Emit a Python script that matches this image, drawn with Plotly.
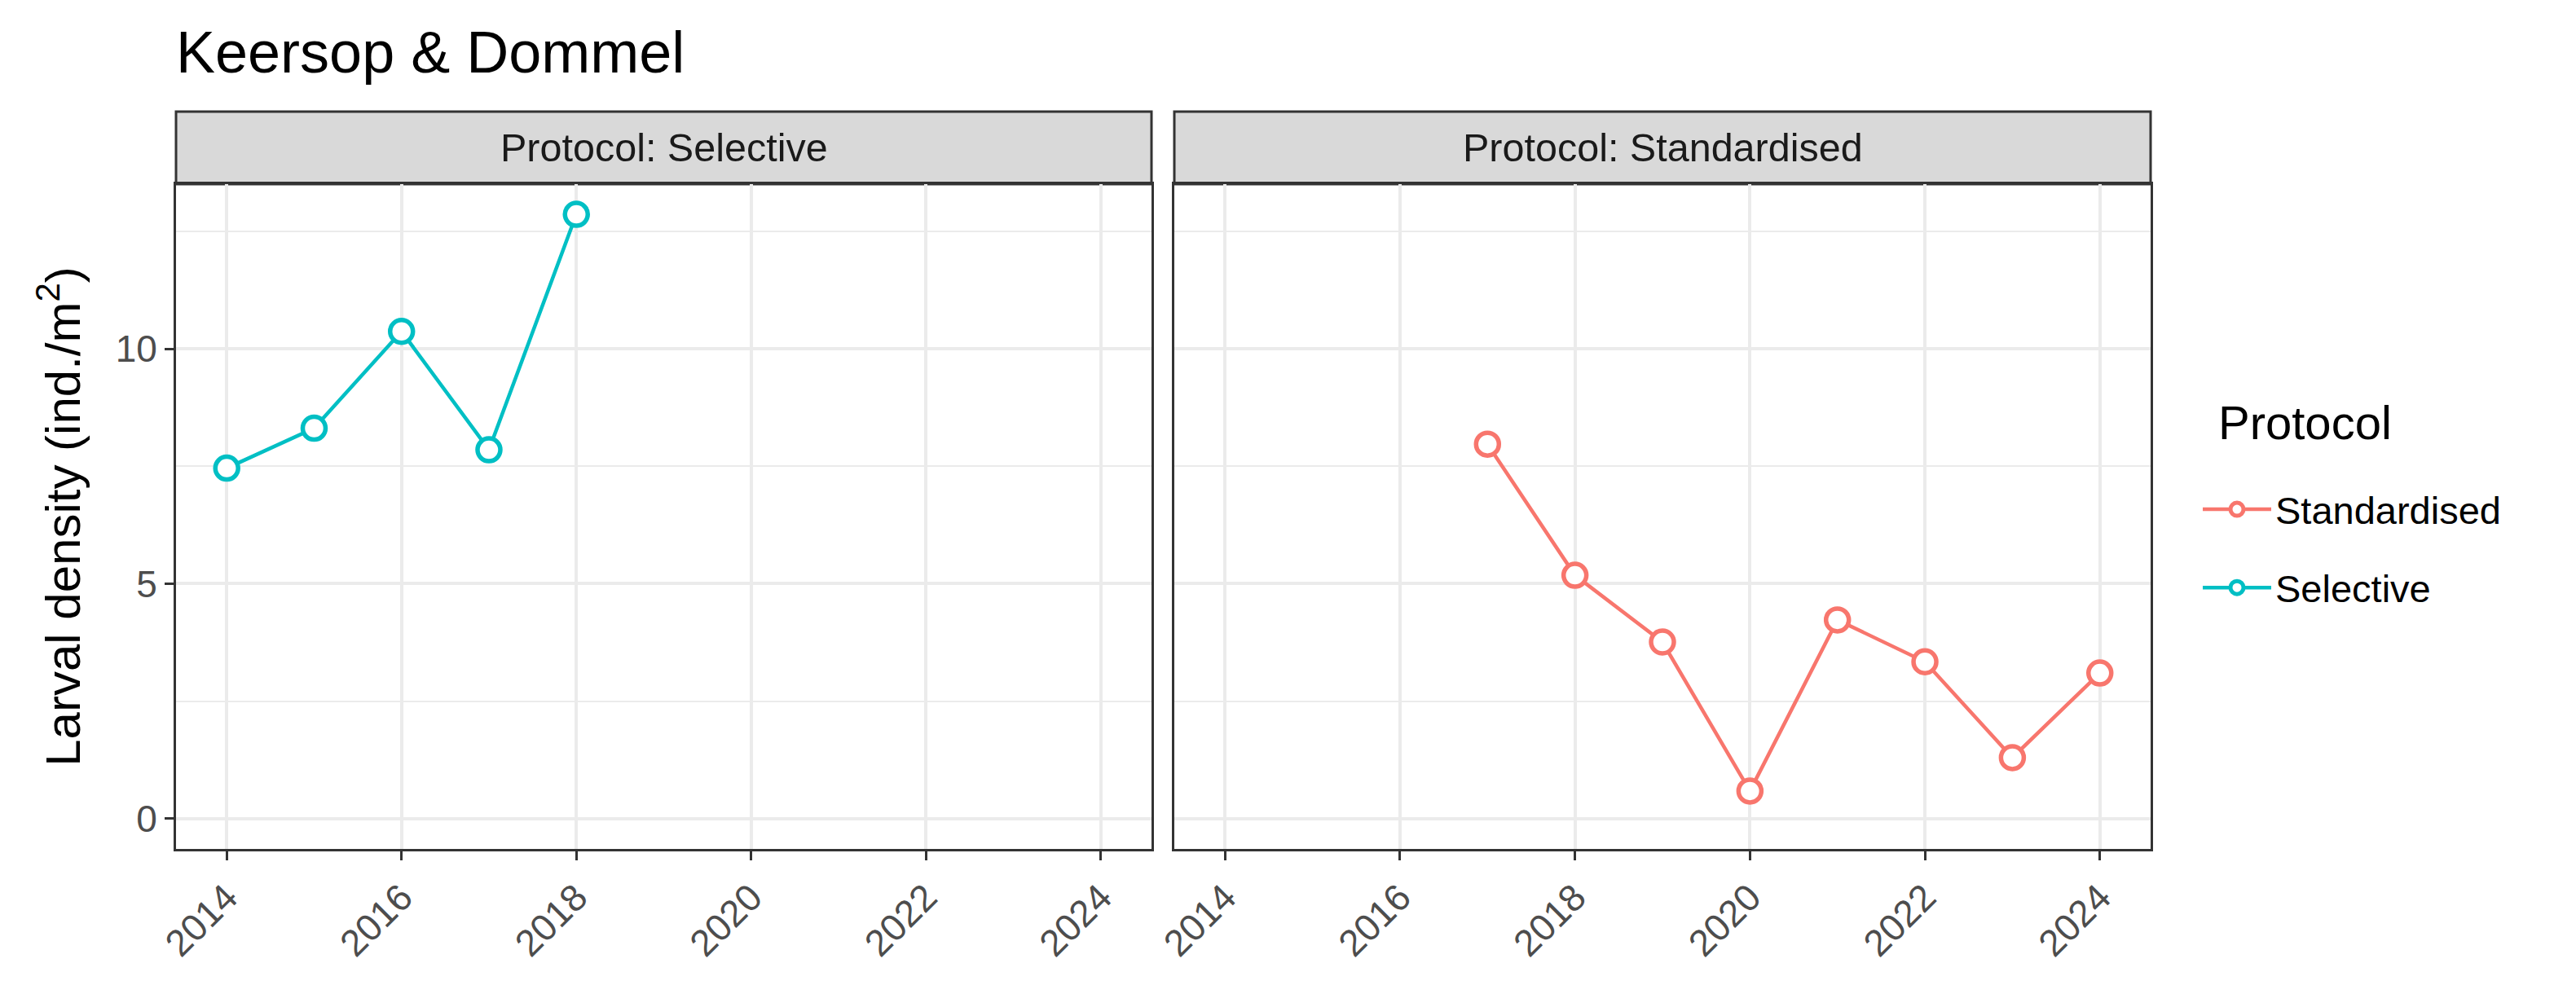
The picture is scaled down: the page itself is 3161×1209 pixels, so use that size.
import plotly.graph_objects as go

# ---- data ----
sel_years = [2014, 2015, 2016, 2017, 2018]
sel_density = [7.46, 8.31, 10.37, 7.85, 12.86]
std_years = [2017, 2018, 2019, 2020, 2021, 2022, 2023, 2024]
std_density = [7.97, 5.18, 3.76, 0.59, 4.23, 3.34, 1.30, 3.10]
x_ticks = [2014, 2016, 2018, 2020, 2022, 2024]
y_ticks = [0, 5, 10]
panel_labels = ["Protocol: Selective", "Protocol: Standardised"]
legend_title = "Protocol"
chart_title = "Keersop & Dommel"
y_title = "Larval density (ind./m<sup>2</sup>)"

COL_STD = "#F8766D"
COL_SEL = "#00BFC4"
FONT = "Liberation Sans, Arial, sans-serif"

W, H = 3161, 1209
L, R, T, B = 208, 3161 - 2631, 129, 1209 - 1034
plot_w = W - L - R
plot_h = H - T - B
strip_h = 89
y_dom_top = (plot_h - strip_h) / plot_h
x1_dom = [0, (1405 - 208) / plot_w]
x2_dom = [(1433 - 208) / plot_w, 1]


def px_x(px):
    return (px - L) / plot_w


def px_y(py):
    return (H - B - py) / plot_h


fig = go.Figure()

marker_common = dict(symbol="circle", size=28, color="white")

fig.add_trace(go.Scatter(
    x=std_years, y=std_density, mode="lines+markers", name="Standardised",
    xaxis="x2", yaxis="y2", legendgroup="std",
    line=dict(color=COL_STD, width=4.5),
    marker=dict(**marker_common, line=dict(color=COL_STD, width=5.5)),
))
fig.add_trace(go.Scatter(
    x=sel_years, y=sel_density, mode="lines+markers", name="Selective",
    xaxis="x", yaxis="y", legendgroup="sel",
    line=dict(color=COL_SEL, width=4.5),
    marker=dict(**marker_common, line=dict(color=COL_SEL, width=5.5)),
))

xr = [2013.42, 2024.58]
yr = [-0.643, 13.503]

xaxis_common = dict(
    range=xr, tickmode="array", tickvals=x_ticks, ticktext=[str(v) for v in x_ticks],
    tickangle=-45, tickfont=dict(family=FONT, size=46, color="#4D4D4D"),
    ticks="outside", ticklen=11, tickwidth=3, tickcolor="#333333",
    showgrid=True, gridcolor="#EBEBEB", gridwidth=4,
    showline=True, linecolor="#333333", linewidth=3, mirror=True,
    zeroline=False, fixedrange=True,
)
yaxis_common = dict(
    range=yr, tickmode="array", tickvals=y_ticks,
    showgrid=True, gridcolor="#EBEBEB", gridwidth=4,
    minor=dict(tickmode="array", tickvals=[2.5, 7.5, 12.5], showgrid=True,
               gridcolor="#EBEBEB", gridwidth=2, ticks=""),
    showline=True, linecolor="#333333", linewidth=3, mirror=True,
    zeroline=False, domain=[0, y_dom_top],
)

fig.update_layout(
    width=W, height=H,
    margin=dict(l=L, r=R, t=T, b=B),
    paper_bgcolor="white", plot_bgcolor="white",
    font=dict(family=FONT, color="black"),
    title=dict(text=chart_title, x=0, xref="paper", xanchor="left",
               y=1 - 56 / H, yref="container", yanchor="middle",
               font=dict(family=FONT, size=72, color="black")),
    xaxis=dict(domain=x1_dom, anchor="y", **xaxis_common),
    xaxis2=dict(domain=x2_dom, anchor="y2", **xaxis_common),
    yaxis=dict(anchor="x", ticks="outside", ticklen=11, tickwidth=3, tickcolor="#333333",
               tickfont=dict(family=FONT, size=46, color="#4D4D4D"),
               title=dict(text=y_title, font=dict(family=FONT, size=60, color="black"), standoff=24),
               **yaxis_common),
    yaxis2=dict(anchor="x2", matches="y", showticklabels=False, ticks="", **yaxis_common),
    showlegend=True,
    legend=dict(
        x=px_x(2690), xanchor="left", y=px_y(580), yanchor="top",
        font=dict(family=FONT, size=47, color="black"),
        tracegroupgap=32, itemwidth=84, bgcolor="rgba(0,0,0,0)",
    ),
)

# legend title
fig.add_annotation(text=legend_title, xref="paper", yref="paper",
                   x=px_x(2712), y=px_y(511), xanchor="left", yanchor="middle",
                   showarrow=False, font=dict(family=FONT, size=58, color="black"))

# facet strips
for dom, label in zip([x1_dom, x2_dom], panel_labels):
    fig.add_shape(type="rect", xref="paper", yref="paper",
                  x0=dom[0], x1=dom[1], y0=y_dom_top, y1=1,
                  fillcolor="#D9D9D9", line=dict(color="#333333", width=3), layer="below")
    fig.add_annotation(text=label, xref="paper", yref="paper",
                       x=(dom[0] + dom[1]) / 2, y=(y_dom_top + 1) / 2,
                       showarrow=False, xanchor="center", yanchor="middle",
                       font=dict(family=FONT, size=48.5, color="#1A1A1A"))

fig.write_html("out.html")
